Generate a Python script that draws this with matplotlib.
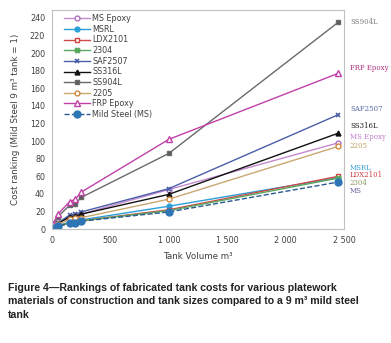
import matplotlib.pyplot as plt

volume = [9, 50, 150, 200, 250, 1000, 2450]

ms_epoxy = [2.5, 6.5, 13, 15, 17, 45, 98]
msrl = [1.5, 4, 8, 9, 10.5, 26, 58.5]
ldx2101 = [1.3, 3.5, 7, 8, 9.5, 22, 60]
d2304 = [1.3, 3.5, 7, 8, 9.5, 21, 58]
saf2507 = [2.5, 7, 16, 17, 19.5, 46, 130]
ss316l = [2, 6, 14, 15, 17, 39.5, 109]
ss904l = [4, 14, 27, 29, 36, 86, 235]
d2205 = [2, 5.5, 11, 12.5, 13, 34, 94]
frp_epoxy = [6, 17, 31, 34, 42, 102, 177]
mild_steel = [1, 3, 6.5, 7.5, 9, 19.5, 53.5]

end_labels = ['SS904L', 'FRP Epoxy', 'SAF2507', 'SS316L', 'MS Epoxy', '2205',
              'MSRL', 'LDX2101', '2304', 'MS']
end_label_y = [235, 183, 136, 117, 105, 95, 70, 61, 52, 43]
end_label_colors = ['#808080', '#b0307f', '#5a6aa8', '#202020', '#c27ccc', '#c0a060',
                    '#3aa0d8', '#d04040', '#8a9a60', '#7060a0']

fig = plt.figure(figsize=(3.91, 3.43), dpi=100)
ax = fig.add_axes([0.133, 0.332, 0.747, 0.639])

ms = 3.5
ax.plot(volume, ms_epoxy, color='#c58ad0', lw=1, marker='o', ms=ms, mfc='white', mec='#b070c0', label='MS Epoxy')
ax.plot(volume, msrl, color='#2aa0d8', lw=1, marker='o', ms=ms, label='MSRL')
ax.plot(volume, ldx2101, color='#d04848', lw=1, marker='s', ms=ms, mfc='white', mec='#d04040', label='LDX2101')
ax.plot(volume, d2304, color='#5aa860', lw=1, marker='X', ms=ms, label='2304')
ax.plot(volume, saf2507, color='#4a5fa8', lw=1, marker='x', ms=ms, mew=1.2, label='SAF2507')
ax.plot(volume, ss316l, color='#111111', lw=1, marker='^', ms=ms, label='SS316L')
ax.plot(volume, ss904l, color='#6a6a6a', lw=1, marker='s', ms=ms, mfc='#5a5a5a', label='SS904L')
ax.plot(volume, d2205, color='#c8a870', lw=1, marker='o', ms=ms, mfc='white', mec='#d08840', label='2205')
ax.plot(volume, frp_epoxy, color='#c040a8', lw=1, marker='^', ms=ms + 0.5, mfc='white', mec='#c040a8', label='FRP Epoxy')
ax.plot(volume, mild_steel, color='#2a5a90', lw=1, ls='--', marker='o', ms=ms + 1.5, mfc='#2e75b6', mec='#2e75b6', label='Mild Steel (MS)')

for lab, yy, c in zip(end_labels, end_label_y, end_label_colors):
    ax.text(2550, yy, lab, color=c, fontsize=5, family='DejaVu Serif', va='center', ha='left', clip_on=False)

ax.set_xlim(0, 2500)
ax.set_ylim(0, 249)
ax.set_yticks(range(0, 241, 20))
ax.set_xticks([0, 500, 1000, 1500, 2000, 2500])
ax.set_xticklabels(['0', '500', '1 000', '1 500', '2 000', '2 500'])
ax.tick_params(labelsize=5.8, length=0, colors='#404040', pad=5)
for s in ax.spines.values():
    s.set_color('#c0c0c0')

ax.set_xlabel('Tank Volume m³', fontsize=6.3, color='#404040', labelpad=5)
ax.set_ylabel('Cost ranking (Mild Steel 9 m³ tank = 1)', fontsize=6.3, color='#404040', labelpad=7)

leg = ax.legend(loc='upper left', bbox_to_anchor=(0.03, 0.995), fontsize=5.8, frameon=False,
                handlelength=3.2, labelspacing=0.2, handletextpad=0.3, borderaxespad=0)
for t in leg.get_texts():
    t.set_color('#404040')

fig.text(0.02, 0.068, 'Figure 4\u2014Rankings of fabricated tank costs for various platework\n'
         'materials of construction and tank sizes compared to a 9 m\u00b3 mild steel\n'
         'tank', fontsize=7.6, fontweight='bold', family='Liberation Sans', color='#222222',
         linespacing=1.4, va='bottom', ha='left')

fig.savefig('out.png', dpi=100)
